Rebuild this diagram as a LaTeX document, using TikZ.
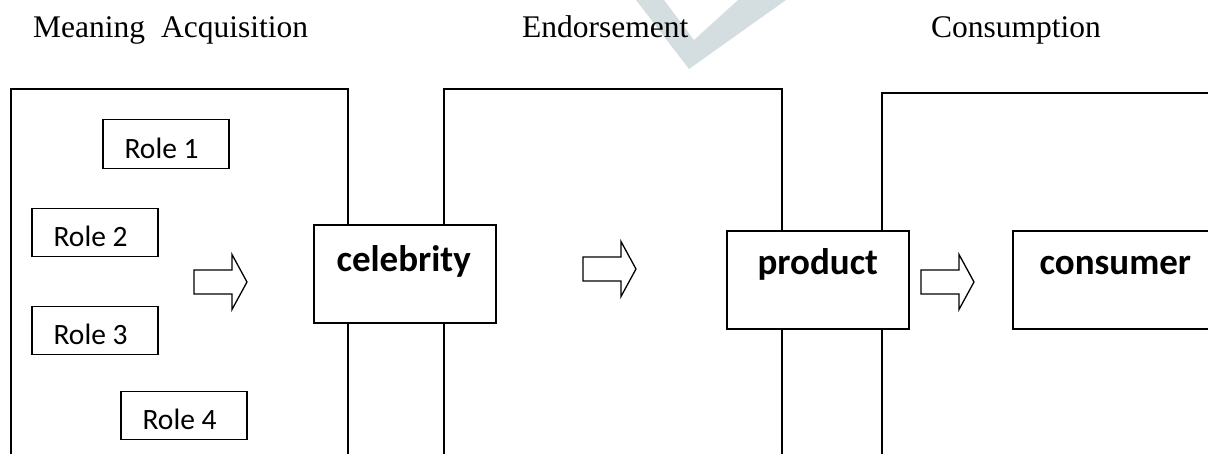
\documentclass[tikz,border=0pt]{standalone}
\usepackage{fontspec}
\setmainfont{Liberation Serif}
\newfontfamily\calibri{Carlito}
\begin{document}
\begin{tikzpicture}[x=1pt,y=-1pt,
  frame/.style={line width=1.3pt, line join=miter},
  rolebox/.style={draw, line width=1.3pt, fill=white, inner sep=0pt, minimum width=126pt, minimum height=48.5pt},
  bigbox/.style={draw, line width=1.3pt, fill=white, inner sep=0pt, minimum width=182pt, minimum height=98pt},
  roletxt/.style={anchor=base west, inner sep=0pt, font=\calibri\fontsize{29.5}{34}\selectfont},
  boldtxt/.style={anchor=base west, inner sep=0pt, font=\calibri\bfseries\fontsize{37}{44}\selectfont},
  headtxt/.style={anchor=base west, inner sep=0pt, font=\fontsize{31.5}{37}\selectfont},
  blockarrow/.pic={\draw[line width=1.3pt, fill=white, line join=miter] (0,-12) -- (38,-12) -- (38,-27.5) -- (53,0) -- (38,27.5) -- (38,12) -- (0,12) -- cycle;}
]
\useasboundingbox (0,0) rectangle (1208,454);
\clip (0,0) rectangle (1208,454);
\fill[white] (0,0) rectangle (1208,454);

% watermark
\fill[color={rgb,255:red,212;green,222;blue,225}] (636,0) -- (664,0) -- (694,40) -- (738,0) -- (786,0) -- (689,69) -- cycle;

% headers
\node[headtxt] (h1) at (33,38) {Meaning\hskip 16pt Acquisition};
\node[headtxt] (h2) at (522,38) {Endorsement};
\node[headtxt] (h3) at (931,38) {Consumption};

% frames (open at the bottom)
\coordinate (fa1) at (11,455);  \coordinate (fa2) at (11,89);  \coordinate (fa3) at (348,89);  \coordinate (fa4) at (348,455);
\coordinate (fb1) at (444,455); \coordinate (fb2) at (444,89); \coordinate (fb3) at (782,89);  \coordinate (fb4) at (782,455);
\coordinate (fc1) at (882,455); \coordinate (fc2) at (882,93); \coordinate (fc3) at (1212,93);
\draw[frame] (fa1) -- (fa2) -- (fa3) -- (fa4);
\draw[frame] (fb1) -- (fb2) -- (fb3) -- (fb4);
\draw[frame] (fc1) -- (fc2) -- (fc3);

% role boxes
\node[rolebox] (r1) at (166,144) {};
\node[rolebox] (r2) at (95,232.5) {};
\node[rolebox] (r3) at (95,330.5) {};
\node[rolebox] (r4) at (184,415.5) {};
\node[roletxt] (t1) at ([xshift=22pt,yshift=10.5pt]r1.south west) {Role 1};
\node[roletxt] (t2) at ([xshift=22pt,yshift=10.5pt]r2.south west) {Role 2};
\node[roletxt] (t3) at ([xshift=22pt,yshift=10.5pt]r3.south west) {Role 3};
\node[roletxt] (t4) at ([xshift=22pt,yshift=10.5pt]r4.south west) {Role 4};

% main boxes
\node[bigbox] (cel) at (405,274) {};
\node[bigbox] (prod) at (818,280) {};
\node[bigbox, minimum width=240pt] (cons) at (1133,280) {};
\node[boldtxt] (celt) at ([xshift=23pt,yshift=-47pt]cel.north west) {celebrity};
\node[boldtxt] (prodt) at ([xshift=31pt,yshift=-44pt]prod.north west) {product};
\node[boldtxt] (const) at ([xshift=27pt,yshift=-44pt]cons.north west) {consumer};

% block arrows
\pic at (194,282) {blockarrow};
\pic at (583,269) {blockarrow};
\pic at (921,282) {blockarrow};
\end{tikzpicture}
\end{document}
